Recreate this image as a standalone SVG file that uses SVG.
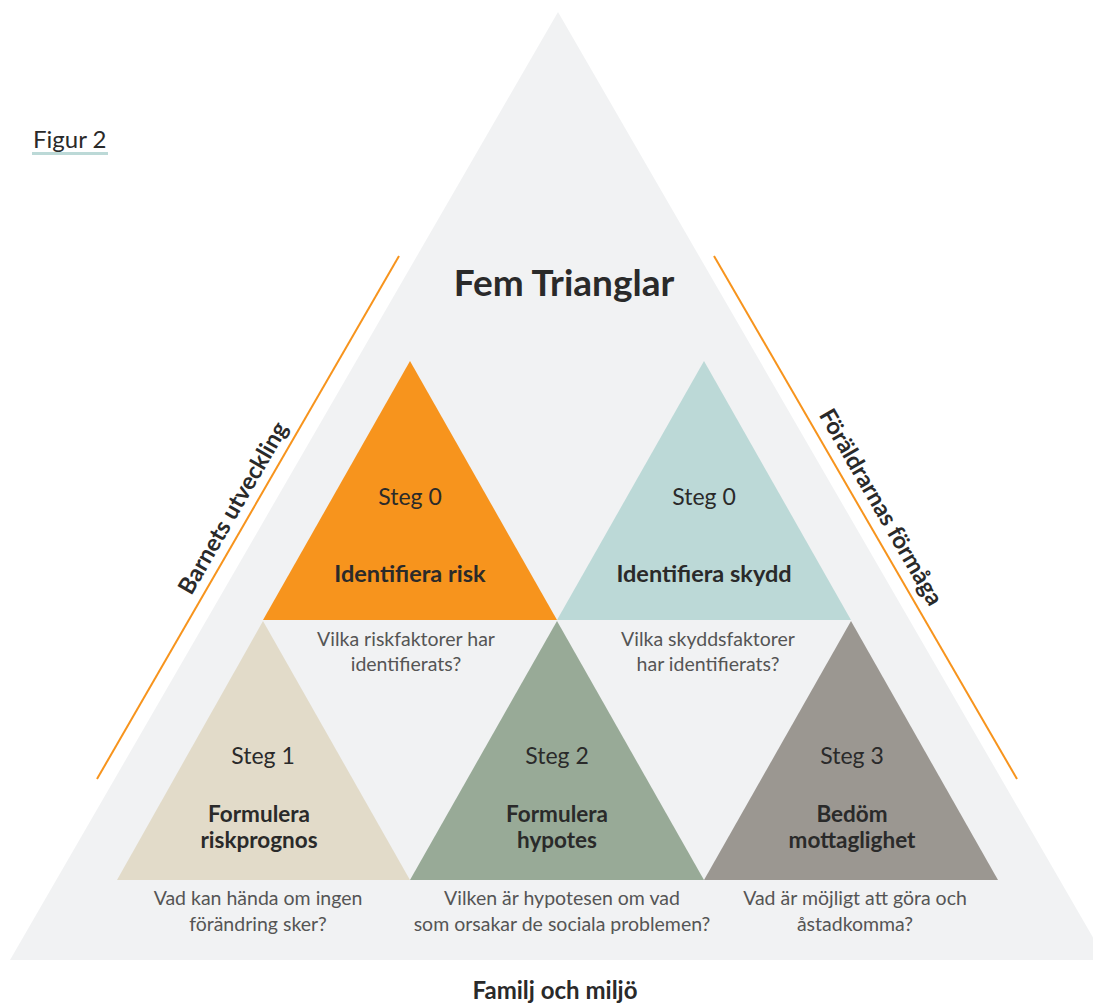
<svg xmlns="http://www.w3.org/2000/svg" width="1093" height="1007" viewBox="0 0 1093 1007">
<style>
text{font-family:Lato,"Open Sans","Liberation Sans",sans-serif;text-anchor:middle;fill:#2a2a2a}
.b{font-weight:bold}
.steg{font-size:23px}
.lab{font-size:23.5px;font-weight:bold}
.lab2{font-size:22.5px;font-weight:bold}
.q{font-size:19.5px;fill:#555}
.side{font-size:23.5px;font-weight:bold}
</style>
<rect width="1093" height="1007" fill="#ffffff"/>
<g id="outer">
<polygon points="558,12 10,960 1106,960" fill="#f1f2f3"/>
</g>
<g id="connectors">
<line x1="399" y1="256" x2="97" y2="779" stroke="#f7941d" stroke-width="2"/>
<line x1="714" y1="256" x2="1017" y2="779" stroke="#f7941d" stroke-width="2"/>
</g>
<g id="figur">
<text x="33" y="148" style="font-size:24px;text-anchor:start">Figur 2</text>
<rect x="32" y="152" width="76" height="3" fill="#bcd9d7"/>
</g>
<g id="title"><text x="564" y="296" class="b" style="font-size:37px">Fem Trianglar</text></g>
<g id="side-left"><text class="side" transform="translate(233,508) rotate(-60)" y="8">Barnets utveckling</text></g>
<g id="side-right"><text class="side" transform="translate(881,507) rotate(60)" y="8">Föräldrarnas förmåga</text></g>
<g id="risk">
<polygon points="410,361 263,620 557,620" fill="#f7941d"/>
<text x="410" y="505" class="steg">Steg 0</text>
<text x="410" y="582" class="lab">Identifiera risk</text>
</g>
<g id="skydd">
<polygon points="704,361 557,620 851,620" fill="#bcd9d7"/>
<text x="704" y="505" class="steg">Steg 0</text>
<text x="704" y="582" class="lab">Identifiera skydd</text>
</g>
<g id="q-risk"><text x="406" y="646" class="q">Vilka riskfaktorer har</text><text x="406" y="671" class="q">identifierats?</text></g>
<g id="q-skydd"><text x="708" y="646" class="q">Vilka skyddsfaktorer</text><text x="708" y="671" class="q">har identifierats?</text></g>
<g id="steg1">
<polygon points="263,621 117,880 410,880" fill="#e2dbc9"/>
<text x="263" y="764" class="steg">Steg 1</text>
<text x="259" y="822" class="lab2">Formulera</text>
<text x="259" y="848" class="lab2">riskprognos</text>
</g>
<g id="steg2">
<polygon points="557,621 410,880 704,880" fill="#98aa97"/>
<text x="557" y="764" class="steg">Steg 2</text>
<text x="557" y="822" class="lab2">Formulera</text>
<text x="557" y="848" class="lab2">hypotes</text>
</g>
<g id="steg3">
<polygon points="851,621 704,880 998,880" fill="#9b9791"/>
<text x="852" y="764" class="steg">Steg 3</text>
<text x="852" y="822" class="lab2">Bedöm</text>
<text x="852" y="848" class="lab2">mottaglighet</text>
</g>
<g id="q1"><text x="258" y="905" class="q">Vad kan hända om ingen</text><text x="258" y="931" class="q">förändring sker?</text></g>
<g id="q2"><text x="562" y="905" class="q">Vilken är hypotesen om vad</text><text x="562" y="931" class="q">som orsakar de sociala problemen?</text></g>
<g id="q3"><text x="855" y="905" class="q">Vad är möjligt att göra och</text><text x="855" y="931" class="q">åstadkomma?</text></g>
<g id="bottom"><text x="555" y="999" class="b" style="font-size:24px">Familj och miljö</text></g>
</svg>
